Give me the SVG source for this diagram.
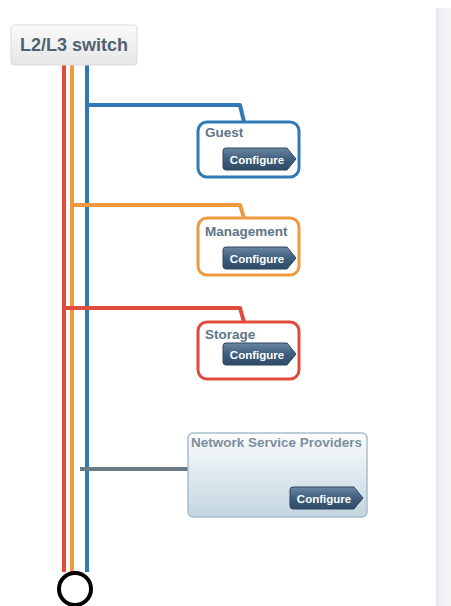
<svg xmlns="http://www.w3.org/2000/svg" width="451" height="606" viewBox="0 0 451 606">
<defs>
<linearGradient id="sw" x1="0" y1="0" x2="0" y2="1"><stop offset="0" stop-color="#fafafa"/><stop offset="1" stop-color="#e6e6e6"/></linearGradient>
<linearGradient id="btn" x1="0" y1="0" x2="0" y2="1"><stop offset="0" stop-color="#6a87a3"/><stop offset="0.5" stop-color="#3f5f7e"/><stop offset="1" stop-color="#2f4c68"/></linearGradient>
<linearGradient id="nsp" x1="0" y1="0" x2="0" y2="1"><stop offset="0" stop-color="#fbfcfd"/><stop offset="1" stop-color="#c3d5e0"/></linearGradient>
<linearGradient id="panel" x1="0" y1="0" x2="1" y2="0"><stop offset="0" stop-color="#e4e8ec"/><stop offset="0.4" stop-color="#f0f2f4"/><stop offset="1" stop-color="#f5f5f5"/></linearGradient>
<symbol id="cfg" overflow="visible">
<path d="M3,0 H64 L73,11 L64,22 H3 Q0,22 0,19 V3 Q0,0 3,0 Z" fill="url(#btn)" stroke="#2c465f" stroke-width="1"/>
<text x="34" y="15.5" class="bt">Configure</text>
</symbol>
</defs>
<style>
.bt{font-family:"Liberation Sans",Arial,sans-serif;font-size:11.5px;font-weight:bold;fill:#ffffff;text-anchor:middle}
.lbl{font-family:"Liberation Sans",Arial,sans-serif;font-size:13.5px;font-weight:bold;fill:#5d7489}
.ln{fill:none;stroke-width:4;stroke-linejoin:round}
.box{fill:#ffffff;stroke-width:3}
</style>
<rect x="436" y="8" width="15" height="598" fill="url(#panel)"/>
<g id="connectors">
<path class="ln" stroke="#e14b3b" d="M64,65 V572"/>
<path class="ln" stroke="#f09a40" d="M72,65 V572"/>
<path class="ln" stroke="#2f7ab6" d="M87,65 V572"/>
<path class="ln" stroke="#2f7ab6" stroke-width="3.5" d="M87,105 H240 L244,122"/>
<path class="ln" stroke="#f09a40" stroke-width="3.5" d="M72,205 H240 L244,218"/>
<path class="ln" stroke="#e14b3b" stroke-width="3.5" d="M64,308 H240 L244,322"/>
<path class="ln" stroke="#6c7a85" stroke-width="5" d="M80,469 H188"/>
</g>
<g id="switch">
<rect x="11" y="25" width="126" height="40" rx="3" fill="url(#sw)" stroke="#dcdcdc" stroke-width="1"/>
<text x="74" y="51" font-family="'Liberation Sans',Arial,sans-serif" font-size="18" font-weight="bold" fill="#4f6172" text-anchor="middle">L2/L3 switch</text>
</g>
<g id="guest">
<rect class="box" x="198" y="122" width="101" height="55" rx="9" stroke="#2f7ab6"/>
<text class="lbl" x="205" y="137">Guest</text>
<use href="#cfg" x="223" y="148"/>
</g>
<g id="management">
<rect class="box" x="198" y="218" width="101" height="57" rx="9" stroke="#f09a40"/>
<text class="lbl" x="205" y="236">Management</text>
<use href="#cfg" x="223" y="247"/>
</g>
<g id="storage">
<rect class="box" x="198" y="322" width="101" height="57" rx="9" stroke="#e14b3b"/>
<text class="lbl" x="205" y="339">Storage</text>
<use href="#cfg" x="223" y="343"/>
</g>
<g id="nsp">
<rect x="188" y="433" width="179" height="84" rx="5" fill="url(#nsp)" stroke="#a9bdcb" stroke-width="1.5"/>
<text class="lbl" x="191" y="447" style="fill:#7a8fa0">Network Service Providers</text>
<use href="#cfg" x="290" y="487"/>
</g>
<g id="end">
<circle cx="75" cy="589" r="16" fill="#ffffff" stroke="#000000" stroke-width="4"/>
</g>
</svg>
